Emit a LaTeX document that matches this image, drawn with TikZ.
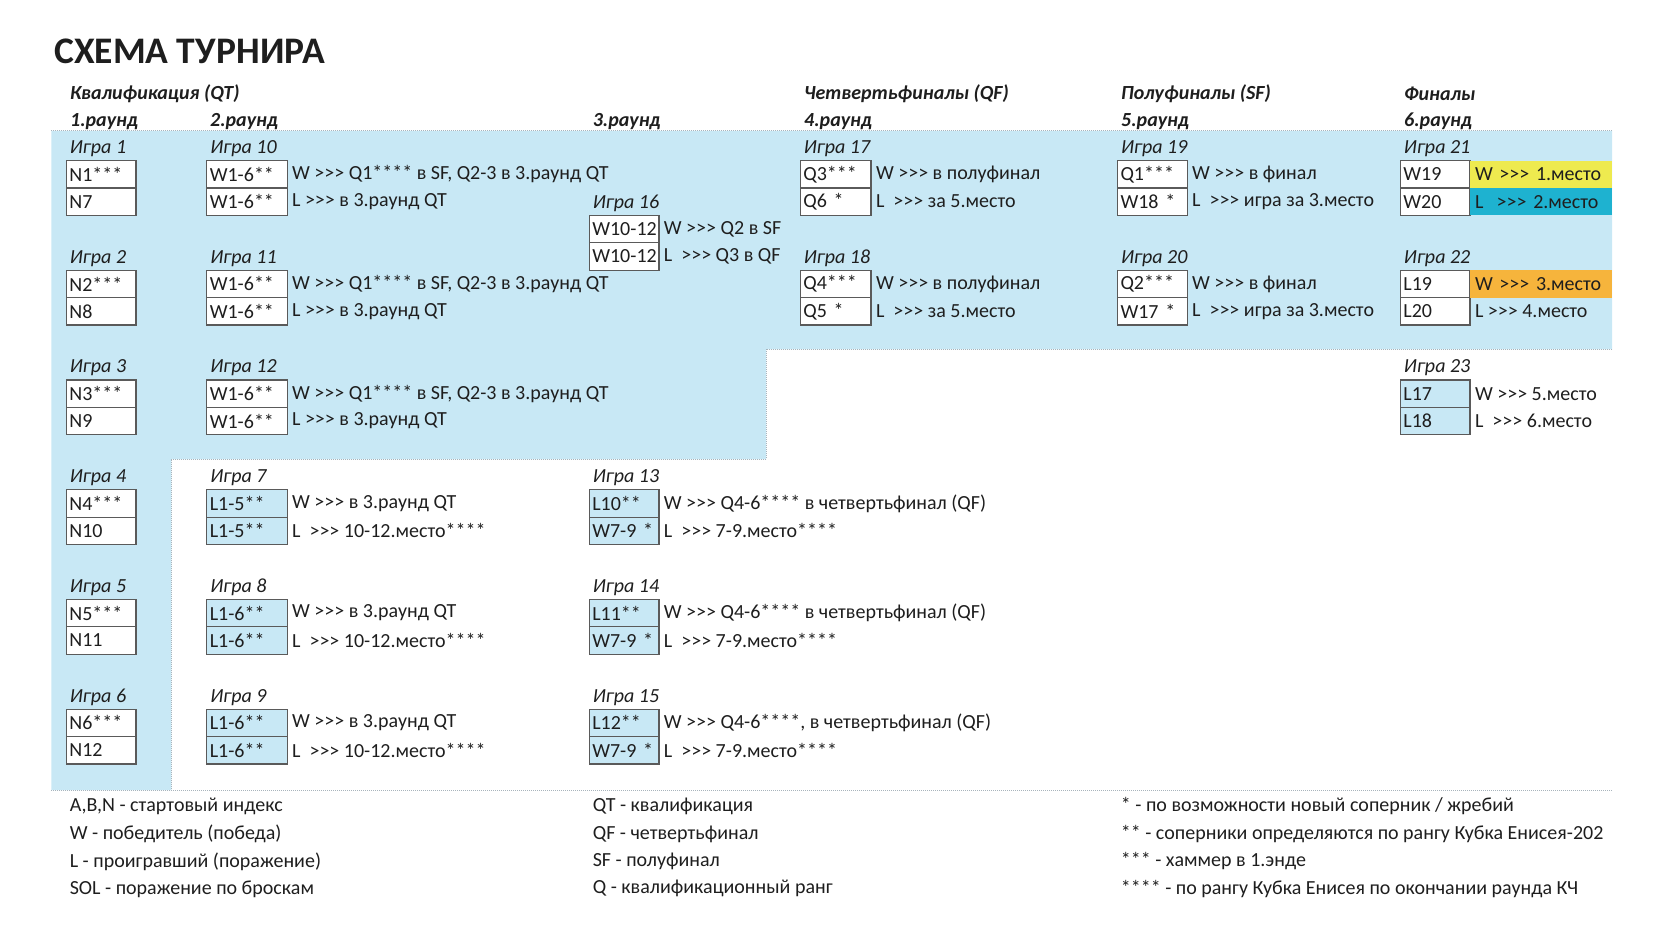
\documentclass[tikz,border=0pt]{standalone}
\usepackage{fontspec}
\setmainfont{Carlito}[Ligatures=TeXOff]
\usetikzlibrary{positioning}
\usepackage{xcolor}

\definecolor{bluebg}{HTML}{C8E8F5}
\definecolor{cellline}{HTML}{5A5A5A}
\definecolor{place1}{HTML}{EEEA4F}
\definecolor{place2}{HTML}{1EB2D0}
\definecolor{place3}{HTML}{F6B43C}
\definecolor{ink}{HTML}{1E1E1E}
\definecolor{dots}{HTML}{A8B4BC}

% one game: label and two cells (g<n>, g<n>a, g<n>b)
\newcommand{\game}[6]{%
  \node[gamelabel] (g#1) at ({#2+3.3},{148.6+27.43*#3}) {Игра #1};
  \node[#4] (g#1a) at (#2,{146.8+27.43*(#3+1)}) {\mbox{#5}};
  \node[#4, below=0pt of g#1a] (g#1b) {\mbox{#6}};
}

\begin{document}
\begin{tikzpicture}[
    x=1pt, y=-1pt,
    font=\fontsize{20}{24}\selectfont, text=ink,
    title/.style={anchor=west, inner sep=0pt, font=\fontsize{37.5}{44}\selectfont\bfseries},
    heading/.style={anchor=west, inner sep=0pt, font=\fontsize{20}{24}\selectfont\bfseries\itshape},
    gamelabel/.style={anchor=west, inner sep=0pt, font=\fontsize{20}{24}\selectfont\itshape},
    cell/.style={draw=cellline, line width=1.2pt, fill=white, text width=#1, minimum height=27.43pt, inner xsep=3pt, inner ysep=0pt, outer sep=0pt, align=left, anchor=west},
    cell/.default=63.6pt,
    bluecell/.style={cell=#1, fill=bluebg},
    bluecell/.default=63.6pt,
    result/.style={anchor=west, minimum height=27.43pt, inner xsep=5pt, inner ysep=0pt, outer sep=0pt},
    podium/.style={result, text width=132pt, align=left, fill=#1},
    legend/.style={anchor=west, inner sep=0pt},
    dotline/.style={dots, densely dotted, line width=1pt}
]
\useasboundingbox (0,0) rectangle (1680,949);

% Background
\fill[bluebg] (51.4,131) -- (1612,131) -- (1612,349) -- (766,349) -- (766,459) -- (171.4,459) -- (171.4,790) -- (51.4,790) -- cycle;
\draw[dotline] (51.4,131) -- (1612,131);
\draw[dotline] (51.4,790) -- (1612,790);
\draw[dotline] (1612,349) -- (766,349) -- (766,459) -- (171.4,459) -- (171.4,790);

% Headings
\node[title] (title) at (54,51) {СХЕМА ТУРНИРА};
\node[heading] (qt) at (70,94) {Квалификация (QT)};
\node[heading] (qf) at (804,94) {Четвертьфиналы (QF)};
\node[heading] (sf) at (1121,94) {Полуфиналы (SF)};
\node[heading] (fin) at (1404,94) {Финалы};
\node[heading] (r1) at (70,121.4) {1.раунд};
\node[heading] (r2) at (210,121.4) {2.раунд};
\node[heading] (r3) at (592.6,121.4) {3.раунд};
\node[heading] (r4) at (804,121.4) {4.раунд};
\node[heading] (r5) at (1121,121.4) {5.раунд};
\node[heading] (r6) at (1404,121.4) {6.раунд};

% Round 1
\game{1}{66.4}{0}{cell}{N1***}{N7}
\game{2}{66.4}{4}{cell}{N2***}{N8}
\game{3}{66.4}{8}{cell}{N3***}{N9}
\game{4}{66.4}{12}{cell}{N4***}{N10}
\game{5}{66.4}{16}{cell}{N5***}{N11}
\game{6}{66.4}{20}{cell}{N6***}{N12}

% Round 2
\game{10}{206.8}{0}{cell=74.3pt}{W1-6**}{W1-6**}
\game{11}{206.8}{4}{cell=74.3pt}{W1-6**}{W1-6**}
\game{12}{206.8}{8}{cell=74.3pt}{W1-6**}{W1-6**}
\game{7}{206.8}{12}{bluecell=74.3pt}{L1-5**}{L1-5**}
\game{8}{206.8}{16}{bluecell=74.3pt}{L1-6**}{L1-6**}
\game{9}{206.8}{20}{bluecell=74.3pt}{L1-6**}{L1-6**}
\node[result, right=0pt of g10a] (w10) {W >>> Q1**** в SF, Q2-3 в 3.раунд QT};
\node[result, right=0pt of g10b] (l10) {L >>> в 3.раунд QT};
\node[result, right=0pt of g11a] (w11) {W >>> Q1**** в SF, Q2-3 в 3.раунд QT};
\node[result, right=0pt of g11b] (l11) {L >>> в 3.раунд QT};
\node[result, right=0pt of g12a] (w12) {W >>> Q1**** в SF, Q2-3 в 3.раунд QT};
\node[result, right=0pt of g12b] (l12) {L >>> в 3.раунд QT};
\node[result, right=0pt of g7a] (w7) {W >>> в 3.раунд QT};
\node[result, right=0pt of g7b] (l7) {L\ \ >>> 10-12.место****};
\node[result, right=0pt of g8a] (w8) {W >>> в 3.раунд QT};
\node[result, right=0pt of g8b] (l8) {L\ \ >>> 10-12.место****};
\node[result, right=0pt of g9a] (w9) {W >>> в 3.раунд QT};
\node[result, right=0pt of g9b] (l9) {L\ \ >>> 10-12.место****};

% Round 3
\game{16}{589.3}{2}{cell}{W10-12}{W10-12}
\game{13}{589.3}{12}{bluecell}{L10**}{W7-9 *}
\game{14}{589.3}{16}{bluecell}{L11**}{W7-9 *}
\game{15}{589.3}{20}{bluecell}{L12**}{W7-9 *}
\node[result, right=0pt of g16a] (w16) {W >>> Q2 в SF};
\node[result, right=0pt of g16b] (l16) {L\ \ >>> Q3 в QF};
\node[result, right=0pt of g13a] (w13) {W >>> Q4-6**** в четвертьфинал (QF)};
\node[result, right=0pt of g13b] (l13) {L\ \ >>> 7-9.место****};
\node[result, right=0pt of g14a] (w14) {W >>> Q4-6**** в четвертьфинал (QF)};
\node[result, right=0pt of g14b] (l14) {L\ \ >>> 7-9.место****};
\node[result, right=0pt of g15a] (w15) {W >>> Q4-6****, в четвертьфинал (QF)};
\node[result, right=0pt of g15b] (l15) {L\ \ >>> 7-9.место****};

% Round 4 (QF)
\game{17}{800.3}{0}{cell=64.7pt}{Q3***}{Q6 *}
\game{18}{800.3}{4}{cell=64.7pt}{Q4***}{Q5 *}
\node[result, right=0pt of g17a] (w17) {W >>> в полуфинал};
\node[result, right=0pt of g17b] (l17) {L\ \ >>> за 5.место};
\node[result, right=0pt of g18a] (w18) {W >>> в полуфинал};
\node[result, right=0pt of g18b] (l18) {L\ \ >>> за 5.место};

% Round 5 (SF)
\game{19}{1117.5}{0}{cell}{Q1***}{W18 *}
\game{20}{1117.5}{4}{cell}{Q2***}{W17 *}
\node[result, right=0pt of g19a] (w19) {W >>> в финал};
\node[result, right=0pt of g19b] (l19) {L\ \ >>> игра за 3.место};
\node[result, right=0pt of g20a] (w20) {W >>> в финал};
\node[result, right=0pt of g20b] (l20) {L\ \ >>> игра за 3.место};

% Round 6 (finals)
\game{21}{1400.4}{0}{cell}{W19}{W20}
\game{22}{1400.4}{4}{cell}{L19}{L20}
\game{23}{1400.4}{8}{bluecell}{L17}{L18}
\node[podium=place1, right=0pt of g21a] (w21) {W >>> 1.место};
\node[podium=place2, right=0pt of g21b] (l21) {L\ \ >>> 2.место};
\node[podium=place3, right=0pt of g22a] (w22) {W >>> 3.место};
\node[result, right=0pt of g22b] (l22) {L >>> 4.место};
\node[result, right=0pt of g23a] (w23) {W >>> 5.место};
\node[result, right=0pt of g23b] (l23) {L\ \ >>> 6.место};

% Legend
\node[legend] (abn) at (69.6,806.5) {A,B,N - стартовый индекс};
\node[legend] (lw) at (69.6,834) {W - победитель (победа)};
\node[legend] (ll) at (69.6,861.4) {L - проигравший (поражение)};
\node[legend] (lsol) at (69.6,888.8) {SOL - поражение по броскам};
\node[legend] (lqt) at (592.6,806.5) {QT - квалификация};
\node[legend] (lqf) at (592.6,834) {QF - четвертьфинал};
\node[legend] (lsf) at (592.6,861.4) {SF - полуфинал};
\node[legend] (lq) at (592.6,888.8) {Q - квалификационный ранг};
\node[legend] (s1) at (1120.7,806.5) {* - по возможности новый соперник / жребий};
\begin{scope}
  \clip (1100,815) rectangle (1612,850);
  \node[legend] (s2) at (1120.7,834) {** - соперники определяются по рангу Кубка Енисея-202};
\end{scope}
\node[legend] (s3) at (1120.7,861.4) {*** - хаммер в 1.энде};
\node[legend] (s4) at (1120.7,888.8) {**** - по рангу Кубка Енисея по окончании раунда КЧ};

\end{tikzpicture}
\end{document}
